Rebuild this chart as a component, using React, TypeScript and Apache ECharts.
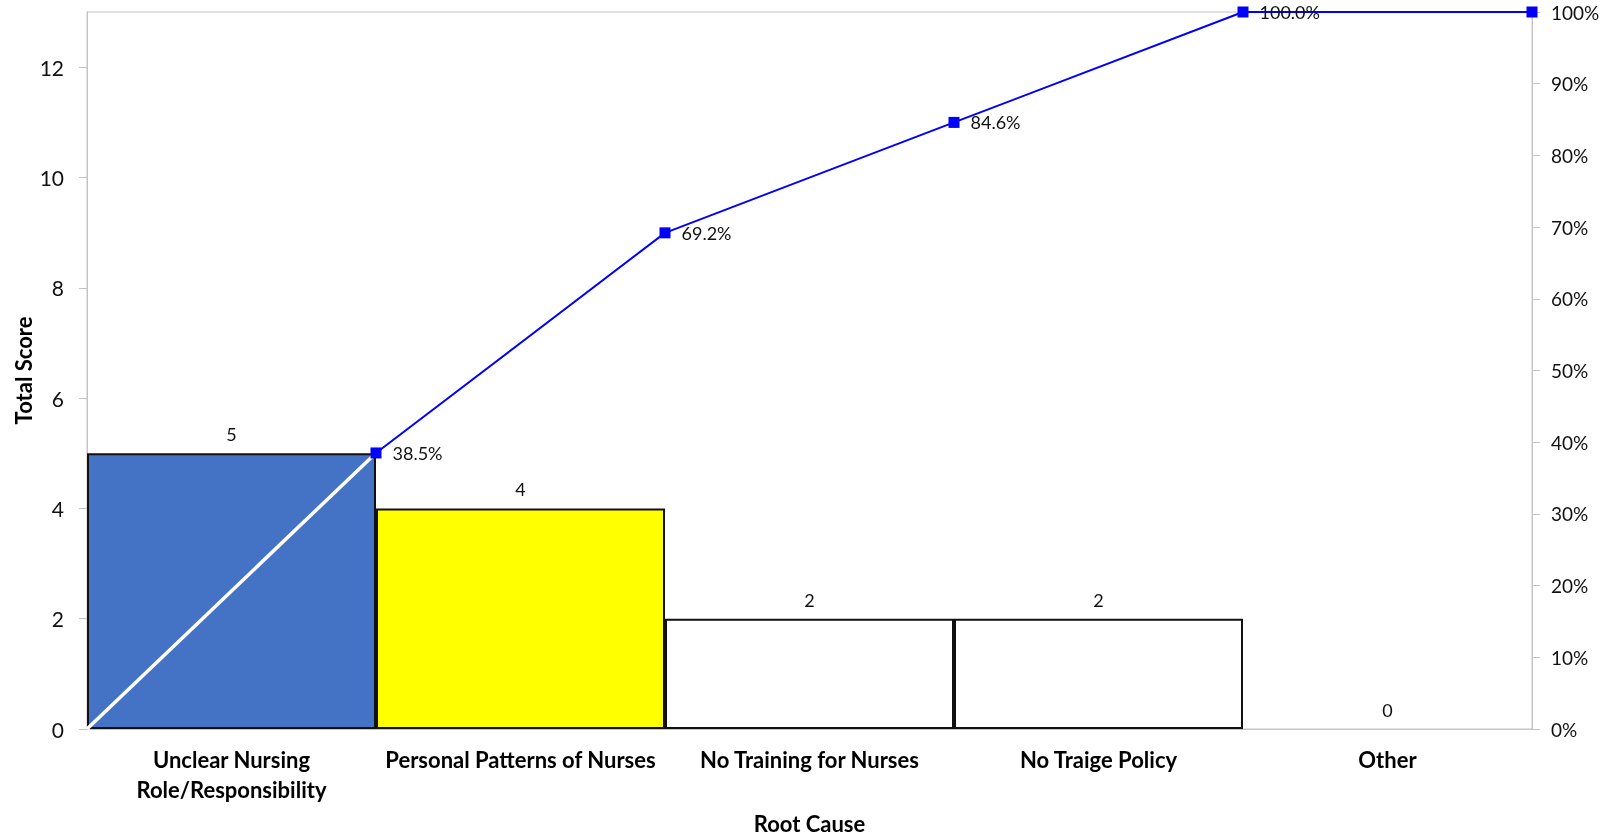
import React, { useEffect, useRef } from "react";
import * as echarts from "echarts";

// Root causes, scores and the running share of the total
const categories = [
  "Unclear Nursing\nRole/Responsibility",
  "Personal Patterns of Nurses",
  "No Training for Nurses",
  "No Traige Policy",
  "Other",
];
const scores = [5, 4, 2, 2, 0];
const cumulativePct = [38.5, 69.2, 84.6, 100.0, 100.0];
const barColors = ["#4472c4", "#ffff00", "#ffffff", "#ffffff", "#ffffff"];
const leftTicks = { min: 0, max: 13, interval: 2 };
const rightTicks = { min: 0, max: 100, interval: 10 };

const FONT = "Lato, 'Noto Sans', sans-serif";

export default function App() {
  const ref = useRef<HTMLDivElement>(null);

  useEffect(() => {
    if (!ref.current) return;
    const chart = echarts.init(ref.current, null, { renderer: "svg" });

    // cumulative line runs along the bar boundaries: 0 at the left edge,
    // then one point at the right edge of each bar
    const firstSegment = [
      [0, 0],
      [1, cumulativePct[0]],
    ];
    const linePoints = cumulativePct.map((v, i) => [i + 1, v]);

    chart.setOption({
      animation: false,
      textStyle: { fontFamily: FONT },
      grid: {
        left: 87,
        right: 78,
        top: 12,
        bottom: 107,
        outerBoundsMode: "none",
        show: true,
        borderColor: "#c4c4c4",
        borderWidth: 1,
      },
      xAxis: [
        {
          type: "category",
          data: categories,
          boundaryGap: true,
          name: "Root Cause",
          nameLocation: "middle",
          nameGap: 83,
          nameMoveOverlap: false,
          nameTextStyle: { fontFamily: FONT, fontSize: 22, fontWeight: "bold", color: "#000" },
          axisLine: { lineStyle: { color: "#c4c4c4" } },
          axisTick: { show: false },
          axisLabel: {
            interval: 0,
            margin: 15,
            fontFamily: FONT,
            fontSize: 22,
            fontWeight: "bold",
            lineHeight: 30,
            color: "#000",
          },
        },
        {
          type: "value",
          min: 0,
          max: categories.length,
          show: false,
        },
      ],
      yAxis: [
        {
          type: "value",
          min: leftTicks.min,
          max: leftTicks.max,
          interval: leftTicks.interval,
          name: "Total Score",
          nameLocation: "middle",
          nameGap: 53,
          nameMoveOverlap: false,
          nameTextStyle: { fontFamily: FONT, fontSize: 22, fontWeight: "bold", color: "#000" },
          axisLine: { show: true, lineStyle: { color: "#c4c4c4" } },
          axisTick: { show: true, length: 8, lineStyle: { color: "#c4c4c4" } },
          axisLabel: {
            showMaxLabel: false,
            margin: 23,
            fontFamily: FONT,
            fontSize: 21,
            color: "#111",
          },
          splitLine: { show: false },
        },
        {
          type: "value",
          min: rightTicks.min,
          max: rightTicks.max,
          interval: rightTicks.interval,
          position: "right",
          axisLine: { show: true, lineStyle: { color: "#c4c4c4" } },
          axisTick: { show: true, length: 8, lineStyle: { color: "#c4c4c4" } },
          axisLabel: {
            margin: 19,
            fontFamily: FONT,
            fontSize: 19,
            color: "#111",
            formatter: "{value}%",
          },
          splitLine: { show: false },
        },
      ],
      series: [
        {
          type: "bar",
          xAxisIndex: 0,
          yAxisIndex: 0,
          barWidth: "100%",
          barCategoryGap: 0,
          data: scores.map((v, i) => ({
            value: v,
            itemStyle: { color: barColors[i], borderWidth: v === 0 ? 0 : 2 },
          })),
          itemStyle: { borderColor: "#111", borderWidth: 2 },
          label: {
            show: true,
            position: "top",
            distance: 10,
            fontFamily: FONT,
            fontSize: 18,
            color: "#111",
          },
        },
        {
          type: "line",
          xAxisIndex: 1,
          yAxisIndex: 1,
          data: firstSegment,
          symbol: "none",
          lineStyle: { color: "#ffffff", width: 3.5 },
          clip: false,
          z: 3,
        },
        {
          type: "line",
          xAxisIndex: 1,
          yAxisIndex: 1,
          data: linePoints,
          symbol: "rect",
          symbolSize: 11,
          itemStyle: { color: "#0000ff" },
          lineStyle: { color: "#0000ff", width: 2 },
          clip: false,
          z: 4,
          label: {
            show: true,
            position: "right",
            distance: 11,
            fontFamily: FONT,
            fontSize: 18,
            color: "#111",
            formatter: (p: any) =>
              p.dataIndex === linePoints.length - 1 ? "" : `${p.value[1].toFixed(1)}%`,
          },
        },
      ],
    });

    return () => chart.dispose();
  }, []);

  return (
    <div
      ref={ref}
      style={{ position: "fixed", left: 0, top: 0, width: 1610, height: 836 }}
    />
  );
}
